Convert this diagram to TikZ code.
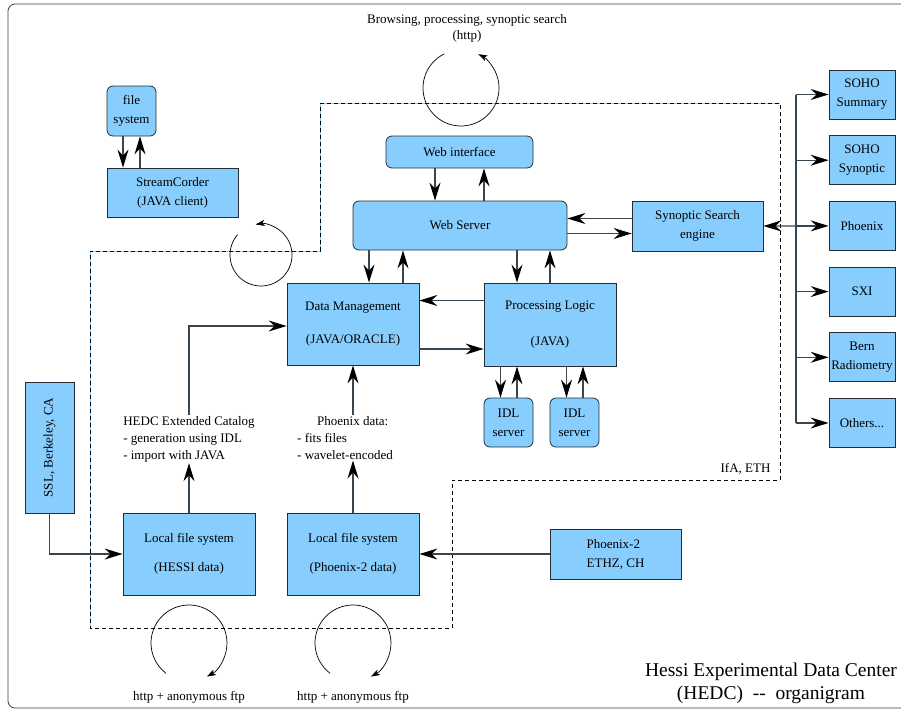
\documentclass[tikz,border=0pt]{standalone}
\usepackage{fontspec}
\setmainfont{Liberation Serif}
\usepackage{graphicx}
\usepackage{tikz}
\usetikzlibrary{arrows.meta}
\definecolor{hedcblue}{RGB}{135,206,255}
\definecolor{hedcline}{RGB}{35,45,55}
\definecolor{hedcarrow}{RGB}{55,70,80}
\newcommand\othertxt{Others...}

\begin{document}
\begin{tikzpicture}[x=1pt,y=-1pt,
  font=\fontsize{13}{19}\selectfont,
  box/.style={draw=hedcline,fill=hedcblue,line width=0.8pt,align=center,inner sep=1pt},
  rbox/.style={box,rounded corners=6pt},
  flow/.style={draw=hedcarrow,line width=1.2pt,-{Stealth[length=18pt,width=11pt,inset=6pt,color=black]}},
  cyc/.style={line width=0.7pt,-{Stealth[length=9pt,width=6pt,inset=2pt]}},
  border/.style={dash pattern=on 4pt off 3pt,line width=0.8pt}]
\useasboundingbox (0,0) rectangle (901,709);
\draw[rounded corners=7pt,line width=0.8pt,black!75] (8,4) rectangle (915,708);

% IfA, ETH
\draw[hedcblue,line width=0.8pt] (90,628) -- (90,251) -- (320,251) -- (320,103) -- (780,103);
\draw[border] (320,103) -- (780,103) -- (780,480) -- (452,480) -- (452,628) -- (90,628) -- (90,251) -- (320,251) -- cycle;
\node[anchor=east] (ifa) at (774,469) {IfA, ETH};

\node[rbox,minimum width=49pt,minimum height=50pt] (fsys) at (131.5,111) {file\\system};
\node[box,minimum width=131pt,minimum height=49pt] (sc) at (172.5,192.5) {StreamCorder\\(JAVA client)};
\node[rbox,minimum width=147pt,minimum height=32pt] (wi) at (459.5,152) {Web interface};
\node[rbox,minimum width=214pt,minimum height=49pt] (ws) at (460,225.5) {Web Server};
\node[box,minimum width=131pt,minimum height=50pt] (sse) at (697.5,226) {Synoptic Search\\engine};
\node[box,minimum width=132pt,minimum height=82pt] (dm) at (353,324) {Data Management\\[14pt](JAVA/ORACLE)};
\node[box,minimum width=132pt,minimum height=83pt] (pl) at (550,324.5) {Processing Logic\\[17pt](JAVA)};
\node[rbox,minimum size=49pt] (idla) at (508.5,422.5) {IDL\\server};
\node[rbox,minimum size=49pt] (idlb) at (574.5,422.5) {IDL\\server};
\node[box,minimum width=132pt,minimum height=82pt] (hfs) at (189,554) {Local file system\\[10pt](HESSI data)};
\node[box,minimum width=132pt,minimum height=82pt] (pfs) at (353,554) {Local file system\\[10pt](Phoenix-2 data)};
\node[box,minimum width=49pt,minimum height=131pt] (ssl) at (49.5,447.5) {\rotatebox{90}{SSL, Berkeley, CA}};
\node[box,align=left,minimum width=131pt,minimum height=50pt] (ph2) at (615.5,554) {Phoenix-2\\ETHZ, CH};

\foreach \name/\txt [count=\i from 0] in {sohoa/{SOHO\\Summary},sohob/{SOHO\\Synoptic},phx/Phoenix,sxi/SXI,bern/{Bern\\Radiometry},oth/\othertxt}
  \node[box,minimum width=66pt,minimum height=49pt] (\name) at (862,94.5+65.7*\i) {\txt};

\node[align=left,anchor=north,inner sep=1pt,font=\fontsize{13}{17}\selectfont] (hedc) at (189,415) {HEDC Extended Catalog\\- generation using IDL\\- import with JAVA};
\node[align=left,anchor=north,inner sep=1pt,font=\fontsize{13}{17}\selectfont] (pdat) at (345,415) {\hspace*{20pt}Phoenix data:\\- fits files\\- wavelet-encoded};
\node[align=center,font=\fontsize{13}{16}\selectfont] (brow) at (467,28) {Browsing, processing, synoptic search\\(http)};
\node (httpa) at (189,697) {http + anonymous ftp};
\node (httpb) at (353,697) {http + anonymous ftp};
\node[align=center,font=\fontsize{19.5}{23}\selectfont] (title) at (771,683) {Hessi Experimental Data Center\\(HEDC)\ \ -{}-\ \ organigram};

% access loops
\draw[cyc] (461,88) ++(-116:38) arc[start angle=-116,end angle=-423,radius=38];
\draw[cyc] (261,255) ++(-139:31) arc[start angle=-139,end angle=-460,radius=31];
\draw[cyc] (189,643) ++(-233:38) arc[start angle=-233,end angle=62,radius=38];
\draw[cyc] (353,643) ++(-233:38) arc[start angle=-233,end angle=62,radius=38];

\draw[flow] ([xshift=-8.5pt]fsys.south) -- ([xshift=-8.5pt]fsys.south |- sc.north);
\draw[flow] ([xshift=8.5pt]fsys.south |- sc.north) -- ([xshift=8.5pt]fsys.south);
\draw[flow] ([xshift=-24.5pt]wi.south) -- ([xshift=-24.5pt]wi.south |- ws.north);
\draw[flow] ([xshift=24.5pt]wi.south |- ws.north) -- ([xshift=24.5pt]wi.south);
\draw[flow] ([yshift=7.5pt]sse.west) -- ([yshift=7.5pt]sse.west -| ws.east);
\draw[flow] ([yshift=-7.5pt]sse.west -| ws.east) -- ([yshift=-7.5pt]sse.west);
\draw[flow] ([xshift=16pt]dm.north |- ws.south) -- ([xshift=16pt]dm.north);
\draw[flow] ([xshift=50pt]dm.north) -- ([xshift=50pt]dm.north |- ws.south);
\draw[flow] ([xshift=-33pt]pl.north |- ws.south) -- ([xshift=-33pt]pl.north);
\draw[flow] (pl.north) -- (pl.north |- ws.south);
\draw[flow] ([yshift=24pt]pl.west) -- ([yshift=24pt]pl.west -| dm.east);
\draw[flow] ([yshift=-25pt]dm.east) -- ([yshift=-25pt]dm.east -| pl.west);
\foreach \idl in {idla,idlb} {
  \draw[flow] ([xshift=-8pt]\idl.north |- pl.south) -- ([xshift=-8pt]\idl.north);
  \draw[flow] ([xshift=8.5pt]\idl.north) -- ([xshift=8.5pt]\idl.north |- pl.south);
}
\draw[flow] (hedc.north) |- ([yshift=-2pt]dm.west);
\draw[flow] (pdat.north -| dm.south) -- (dm.south);
\draw[flow] (hfs.north) -- (hfs.north |- hedc.south);
\draw[flow] (pfs.north) -- (pfs.north |- pdat.south);
\draw[flow] (ssl.south) |- (hfs.west);
\draw[flow] (ph2.west) -- (pfs.east);

% data sources
\coordinate (bus) at (796,0);
\draw[draw=hedcarrow,line width=1.2pt] (sohoa.west -| bus) -- (oth.west -| bus);
\foreach \n in {sohoa,sohob,phx,sxi,bern,oth}
  \draw[flow] (\n.west -| bus) -- (\n.west);
\draw[flow] (phx.west -| bus) -- (sse.east);
\end{tikzpicture}
\end{document}
